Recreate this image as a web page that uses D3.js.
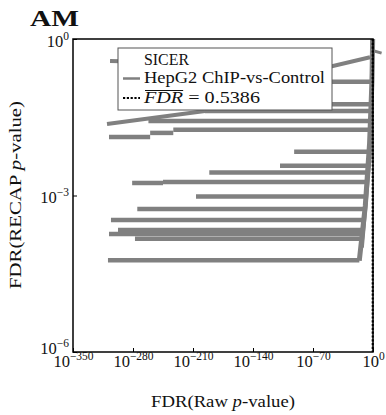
<!DOCTYPE html>
<html><head><meta charset="utf-8">
<script src="https://cdn.jsdelivr.net/npm/d3@7"></script>
<style>
body{margin:0;background:#fff;}
svg{display:block;}
text{font-family:"Liberation Serif","Times New Roman",serif;fill:#111;}
</style></head>
<body><svg id="c" width="386" height="415"></svg>
<script>
// ---- data (log10 exponents) ----
const xTicks = [-350, -280, -210, -140, -70, 0];
const yTicks = [-6, -3, 0];
// horizontal bars: level (log10 RECAP FDR), start (log10 raw FDR), end (null = joins the spine)
const barLevel = [-0.82, -1.25, -1.38, -1.57, -1.88, -1.80, -1.74, -2.16, -2.43, -2.56, -2.74, -2.76, -3.02, -3.26, -3.47, -3.66, -3.74, -3.83, -4.24];
const barStart = [-230, -200, -196, -262, -308, -260, -233, -92, -108.5, -191, -245, -281, -206.5, -275, -305.7, -297.5, -308, -277.7, -309.2];
const barEnd   = [null, null, null, null, -260, -233, null, null, null, null, null, -245, null, null, null, null, null, null, null];
// slanted pieces
const slant1X = [-310.3, -196];
const slant1Y = [-1.63, -1.38];
const slant2X = [-306.8, -47.8, -3.5];
const slant2Y = [-0.42, -0.52, -0.35];
const spikeX = [-0.6, 10];
const spikeY = [-0.22, -0.27];
// spine near raw FDR = 1
const spineX = [-16, -9, -4, -1.2, -0.4];
const spineY = [-4.25, -3.2, -2.0, -0.8, 0];
const spine2X = [-13, -4, -1.5, -0.5];
const spine2Y = [-4.0, -2.3, -1.0, 0];
const fdrBar = 0.5386;
const seriesName = "HepG2 ChIP-vs-Control";
const methodName = "SICER";

// ---- layout ----
const svg = d3.select("#c");
const L = 73, T = 39, W = 300, H = 313;
const x = d3.scaleLinear().domain([-350, 0]).range([L, L + W]);
const y = d3.scaleLinear().domain([-6, 0]).range([T + H, T]);
const gray = "#808080";

const line = d3.line().x(d => x(d[0])).y(d => y(d[1]));
const spineAt = d3.scaleLinear().domain(spineY).range(spineX);

const g = svg.append("g");
barLevel.forEach((lv, i) => {
  const e = barEnd[i] === null ? spineAt(lv) : barEnd[i];
  g.append("path").attr("d", line([[barStart[i], lv], [e, lv]]))
    .attr("stroke", gray).attr("stroke-width", 4.5).attr("fill", "none");
});
const slant1 = slant1X.map((v, i) => [v, slant1Y[i]]);
const slant2 = slant2X.map((v, i) => [v, slant2Y[i]]);
[slant1, slant2].forEach(p => g.append("path").attr("d", line(p))
  .attr("stroke", gray).attr("stroke-width", 4).attr("fill", "none"));
g.append("path").attr("d", line(spikeX.map((v, i) => [v, spikeY[i]])))
  .attr("stroke", gray).attr("stroke-width", 3).attr("fill", "none");
g.append("path").attr("d", line(spineX.map((v, i) => [v, spineY[i]])))
  .attr("stroke", gray).attr("stroke-width", 5).attr("fill", "none");
g.append("path").attr("d", line(spine2X.map((v, i) => [v, spine2Y[i]])))
  .attr("stroke", gray).attr("stroke-width", 4).attr("fill", "none");

// frame
svg.append("rect").attr("x", L).attr("y", T).attr("width", W).attr("height", H)
  .attr("fill", "none").attr("stroke", "#000").attr("stroke-width", 1.5);

// FDR bar vertical dotted line
svg.append("line").attr("x1", x(Math.log10(fdrBar))).attr("x2", x(Math.log10(fdrBar)))
  .attr("y1", T).attr("y2", T + H).attr("stroke", "#000").attr("stroke-width", 2.2)
  .attr("stroke-dasharray", "2.2,1.6");

// axes
const supText = d => d === 0 ? "0" : "\u2212" + Math.abs(d);
const xa = svg.append("g").attr("transform", `translate(0,${T + H})`)
  .call(d3.axisBottom(x).tickValues(xTicks).tickSizeInner(-4).tickSizeOuter(0).tickPadding(0));
xa.select(".domain").remove();
xa.selectAll(".tick line").attr("stroke", "#000");
xa.selectAll(".tick text").each(function(d) {
  const t = d3.select(this).text("").attr("y", 15).attr("dy", 0)
    .attr("font-size", 16.5).attr("text-anchor", "middle");
  t.append("tspan").text("10");
  t.append("tspan").attr("dy", -7).attr("font-size", 11.5).text(supText(d));
});
const ya = svg.append("g").attr("transform", `translate(${L},0)`)
  .call(d3.axisLeft(y).tickValues(yTicks).tickSizeInner(-4).tickSizeOuter(0).tickPadding(0));
ya.select(".domain").remove();
ya.selectAll(".tick line").attr("stroke", "#000");
ya.selectAll(".tick text").each(function(d) {
  const t = d3.select(this).text("").attr("x", -4).attr("dy", 0).attr("y", d === -6 ? 1 : 7)
    .attr("font-size", 16.5).attr("text-anchor", "end");
  t.append("tspan").text("10");
  t.append("tspan").attr("dy", -7).attr("font-size", 11.5).text(supText(d));
});
svg.selectAll(".tick text").attr("fill", "#111").attr("font-family", "Liberation Serif, serif");

// labels
svg.append("text").attr("x", 223).attr("y", 407).attr("text-anchor", "middle").attr("font-size", 16.5)
  .attr("textLength", 144).attr("lengthAdjust", "spacingAndGlyphs")
  .html('FDR(Raw <tspan font-style="italic">p</tspan>-value)');
svg.append("text").attr("transform", "translate(21,195) rotate(-90)").attr("text-anchor", "middle")
  .attr("font-size", 16.5).attr("textLength", 188).attr("lengthAdjust", "spacingAndGlyphs")
  .html('FDR(RECAP <tspan font-style="italic">p</tspan>-value)');
svg.append("text").attr("x", 30).attr("y", 26).attr("font-size", 24).attr("font-weight", "bold")
  .attr("textLength", 49).attr("lengthAdjust", "spacingAndGlyphs").text("AM");

// legend
const lg = svg.append("g");
lg.append("rect").attr("x", 118).attr("y", 48).attr("width", 214).attr("height", 62)
  .attr("fill", "#fff").attr("stroke", "#555").attr("stroke-width", 1);
lg.append("text").attr("x", 144).attr("y", 64.5).attr("font-size", 17)
  .attr("textLength", 45).attr("lengthAdjust", "spacingAndGlyphs").text(methodName);
lg.append("line").attr("x1", 123).attr("x2", 140).attr("y1", 78.5).attr("y2", 78.5)
  .attr("stroke", gray).attr("stroke-width", 2.5);
lg.append("text").attr("x", 144).attr("y", 83).attr("font-size", 17)
  .attr("textLength", 181).attr("lengthAdjust", "spacingAndGlyphs").text(seriesName);
lg.append("line").attr("x1", 123).attr("x2", 140).attr("y1", 98).attr("y2", 98)
  .attr("stroke", "#000").attr("stroke-width", 2.2).attr("stroke-dasharray", "2.2,1.6");
const ft = lg.append("text").attr("x", 144).attr("y", 103).attr("font-size", 17)
  .attr("textLength", 116).attr("lengthAdjust", "spacingAndGlyphs");
ft.append("tspan").attr("font-style", "italic").text("FDR");
ft.append("tspan").text(" = " + fdrBar);
// overline over FDR (first 3 characters)
let olw = 38;
try { olw = ft.node().getSubStringLength(0, 3); } catch (e) {}
lg.append("line").attr("x1", 145).attr("x2", 144 + olw).attr("y1", 90.5).attr("y2", 90.5)
  .attr("stroke", "#111").attr("stroke-width", 1);
</script></body></html>
